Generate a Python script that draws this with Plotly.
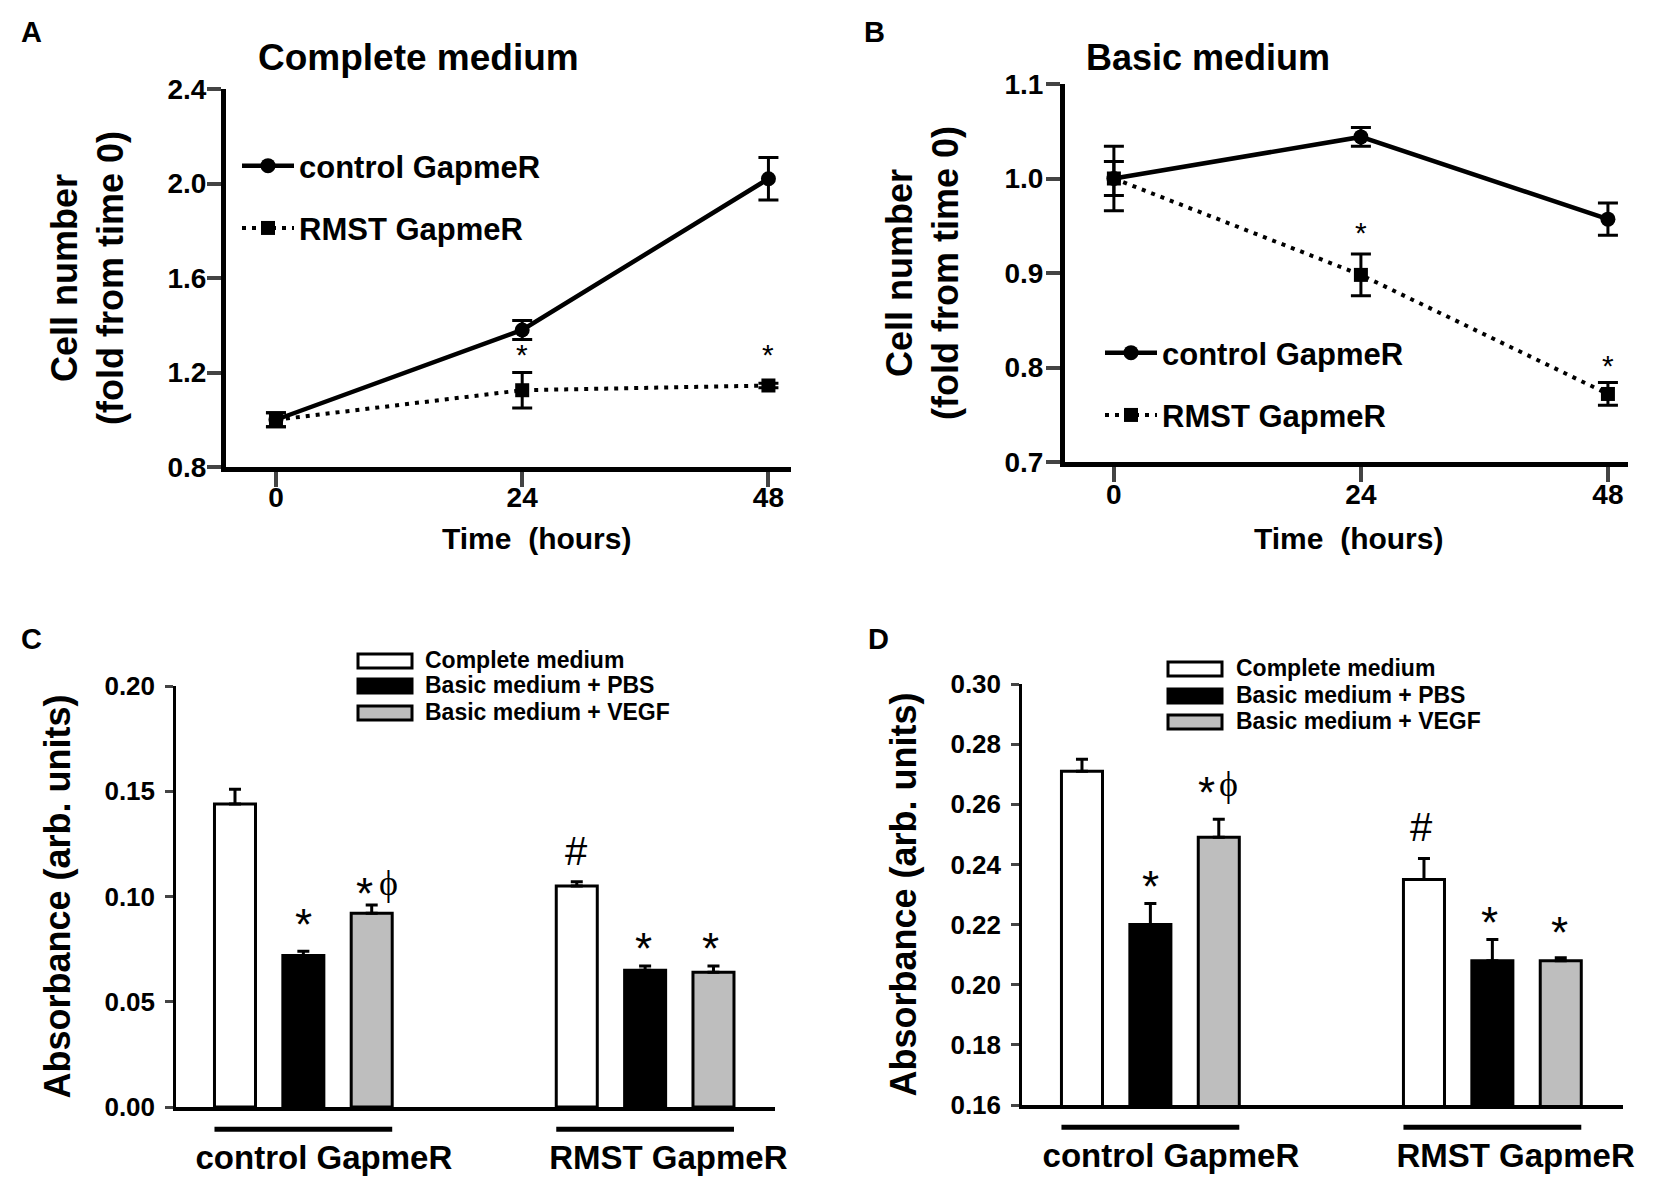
"""Four panel figure: cell number time courses and absorbance bars."""

import plotly.graph_objects as go
from plotly.subplots import make_subplots

# panels A and B
hours = [0, 24, 48]
a_control = [1.0, 1.38, 2.02]
a_control_err = [0.03, 0.04, 0.09]
a_rmst = [1.0, 1.125, 1.145]
a_rmst_err = [0.03, 0.075, 0.01]
b_control = [1.0, 1.044, 0.957]
b_control_err = [0.018, 0.01, 0.017]
b_rmst = [1.0, 0.898, 0.772]
b_rmst_err = [0.034, 0.022, 0.012]

# panels C and D, one value per group
groups = ["control GapmeR", "RMST GapmeR"]
media = ["Complete medium", "Basic medium + PBS", "Basic medium + VEGF"]
c_complete = [0.144, 0.105]
c_complete_err = [0.007, 0.002]
c_pbs = [0.072, 0.065]
c_pbs_err = [0.002, 0.002]
c_vegf = [0.092, 0.064]
c_vegf_err = [0.004, 0.003]
d_complete = [0.271, 0.235]
d_complete_err = [0.004, 0.007]
d_pbs = [0.22, 0.208]
d_pbs_err = [0.007, 0.007]
d_vegf = [0.249, 0.208]
d_vegf_err = [0.006, 0.001]

FONT = "Liberation Sans"
W, H = 1654, 1175  # page body has an 8px margin


def px(x):
    return (x - 8) / W


def py(y):
    return 1 - (y - 8) / H


fig = make_subplots(rows=2, cols=2)


def line_panel(col, control, control_err, rmst, rmst_err, legend):
    fig.add_trace(go.Scatter(
        x=hours, y=control, name="control GapmeR", legend=legend, legendgroup="c",
        mode="lines+markers", line=dict(color="black", width=4.5),
        marker=dict(symbol="circle", size=15, color="black"),
        error_y=dict(type="data", array=control_err, color="black", thickness=3, width=10),
        cliponaxis=False,
    ), row=1, col=col)
    fig.add_trace(go.Scatter(
        x=hours, y=rmst, name="RMST GapmeR", legend=legend, legendgroup="r",
        mode="lines+markers", line=dict(color="black", width=4, dash="4px,6px"),
        marker=dict(symbol="square", size=14, color="black"),
        error_y=dict(type="data", array=rmst_err, color="black", thickness=3, width=10),
        cliponaxis=False,
    ), row=1, col=col)


def bar_panel(col, series):
    fills = ["white", "black", "#bebebe"]
    for i, (vals, errs) in enumerate(series):
        fig.add_trace(go.Bar(
            x=[i, i + 5], y=vals, width=0.6, name=media[i], showlegend=False,
            marker=dict(color=fills[i], line=dict(color="black", width=3)),
            error_y=dict(type="data", symmetric=False, array=errs, arrayminus=[0, 0],
                         color="black", thickness=3, width=6),
        ), row=2, col=col)


line_panel(1, a_control, a_control_err, a_rmst, a_rmst_err, "legend")
line_panel(2, b_control, b_control_err, b_rmst, b_rmst_err, "legend2")
bar_panel(1, [(c_complete, c_complete_err), (c_pbs, c_pbs_err), (c_vegf, c_vegf_err)])
bar_panel(2, [(d_complete, d_complete_err), (d_pbs, d_pbs_err), (d_vegf, d_vegf_err)])

tick_font = dict(family=FONT, size=28, color="black", weight="bold")
title_font = dict(family=FONT, size=36, color="black", weight="bold")

# line panels
for name_x, name_y, dom_x, dom_y, rng_x, rng_y, ticks_y, off_x, off_y, stand in [
    ("xaxis", "yaxis", (226, 791), (89, 467), (-4.87, 50.2), (0.8, 2.4),
     [0.8, 1.2, 1.6, 2.0, 2.4], -14, -5, 34),
    ("xaxis2", "yaxis2", (1065, 1628), (84, 462), (-4.75, 49.95), (0.7, 1.1),
     [0.7, 0.8, 0.9, 1.0, 1.1], -12, -3, 36),
]:
    fig.layout[name_x].update(
        domain=[px(dom_x[0]), px(dom_x[1])], range=rng_x, tickvals=hours, ticks="outside",
        ticklen=15, tickwidth=4, linewidth=5, linecolor="black", showgrid=False, zeroline=False,
        automargin=False, tickfont=tick_font, ticklabelstandoff=off_x,
    )
    fig.layout[name_y].update(
        domain=[py(dom_y[1]), py(dom_y[0])], range=rng_y, tickvals=ticks_y, tickformat=".1f",
        ticks="outside", ticklen=14, tickwidth=4, linewidth=5, linecolor="black", showgrid=False,
        zeroline=False, tickfont=tick_font, automargin=False, ticklabelstandoff=off_y,
        title=dict(text="Cell number<br>(fold from time 0)", standoff=stand, font=title_font),
    )

# bar panels
for name_x, name_y, dom_x, dom_y, rng_x, rng_y, ticks_y in [
    ("xaxis3", "yaxis3", (176, 775), (686, 1107), (-0.863, 7.9), (0, 0.2), [0, 0.05, 0.1, 0.15, 0.2]),
    ("xaxis4", "yaxis4", (1022, 1623), (684, 1105), (-0.877, 7.91), (0.16, 0.3),
     [0.16, 0.18, 0.2, 0.22, 0.24, 0.26, 0.28, 0.3]),
]:
    fig.layout[name_x].update(
        domain=[px(dom_x[0]), px(dom_x[1])], range=rng_x, tickvals=[1.3, 6.34], ticktext=groups,
        ticks="", linewidth=3.5, linecolor="black", showgrid=False, zeroline=False, automargin=False,
        tickfont=dict(family=FONT, size=33, color="black", weight="bold"), ticklabelstandoff=19,
    )
    fig.layout[name_y].update(
        domain=[py(dom_y[1]), py(dom_y[0])], range=rng_y, tickvals=ticks_y, tickformat=".2f",
        ticks="outside", ticklen=8, tickwidth=2.5, linewidth=2.5, linecolor="black", showgrid=False,
        zeroline=False, automargin=False, ticklabelstandoff=5,
        tickfont=dict(family=FONT, size=26, color="black", weight="bold"),
        title=dict(text="Absorbance (arb. units)", standoff=23, font=title_font),
    )

notes = []


def note(text, x, y, size, xref="paper", yref="paper", weight="bold", family=FONT, xanchor="center"):
    notes.append(dict(text=text, x=x, y=y, xref=xref, yref=yref, showarrow=False,
                      xanchor=xanchor, yanchor="middle",
                      font=dict(family=family, size=size, color="black", weight=weight)))


# panel letters
for letter, x, y in [("A", 31, 32), ("B", 874, 32), ("C", 31, 639), ("D", 878, 639)]:
    note(letter, px(x), py(y), 29)
note("Complete medium", px(418), py(58), 37)
note("Basic medium", px(1208), py(58), 36)
note("Time\u00a0\u00a0(hours)", px(536), py(538), 30)
note("Time\u00a0\u00a0(hours)", px(1348), py(538), 30)

# significance marks, placed in data units
for x, y, xr, yr in [(24, 1.275, "x", "y"), (48, 1.275, "x", "y"), (24, 0.943, "x2", "y2"), (48, 0.802, "x2", "y2")]:
    note("*", x, y, 30, xref=xr, yref=yr, weight="normal")
for x, y, txt, size in [(1, 0.0865, "*", 44), (1.9, 0.1015, "*", 44), (5, 0.1215, "#", 40),
                        (5.97, 0.0755, "*", 44), (6.96, 0.0755, "*", 44)]:
    note(txt, x, y, size, xref="x3", yref="y3", weight="normal")
for x, y, txt, size in [(1, 0.2328, "*", 44), (1.82, 0.264, "*", 44), (4.96, 0.2525, "#", 40),
                        (5.96, 0.2208, "*", 44), (6.98, 0.2175, "*", 44)]:
    note(txt, x, y, size, xref="x4", yref="y4", weight="normal")
note("\u03d5", 2.25, 0.1065, 36, xref="x3", yref="y3", weight="normal", family="Liberation Serif")
note("\u03d5", 2.14, 0.2668, 36, xref="x4", yref="y4", weight="normal", family="Liberation Serif")

shapes = []
# group bars under the bar panels
for xr, yr in [("x3", "y3 domain"), ("x4", "y4 domain")]:
    for x0, x1 in [(-0.3, 2.3), (4.7, 7.3)]:
        shapes.append(dict(type="line", xref=xr, yref=yr, x0=x0, x1=x1, y0=-0.053, y1=-0.053,
                           line=dict(color="black", width=5)))

# bar legends
fills = ["white", "black", "#bebebe"]
for sx, tx, rows in [(358, 423, (661, 686, 713)), (1168, 1234, (669, 696, 722))]:
    for i, row in enumerate(rows):
        shapes.append(dict(type="rect", xref="paper", yref="paper", x0=px(sx), x1=px(sx + 54),
                           y0=py(row + 7), y1=py(row - 7), fillcolor=fills[i],
                           line=dict(color="black", width=3)))
        note(media[i], px(tx), py(row - 1), 23, xanchor="left")

legend_style = dict(bgcolor="rgba(0,0,0,0)", borderwidth=0, itemwidth=52, tracegroupgap=19,
                    xanchor="left", yanchor="top", itemclick=False,
                    font=dict(family=FONT, size=31, color="black", weight="bold"))

fig.update_layout(
    width=W, height=H, margin=dict(l=0, r=0, t=0, b=0), showlegend=True,
    paper_bgcolor="white", plot_bgcolor="white", barmode="overlay",
    legend=dict(x=px(237), y=py(139), **legend_style),
    legend2=dict(x=px(1100), y=py(326), **legend_style),
    annotations=notes, shapes=shapes,
)

fig.write_html("out.html")
